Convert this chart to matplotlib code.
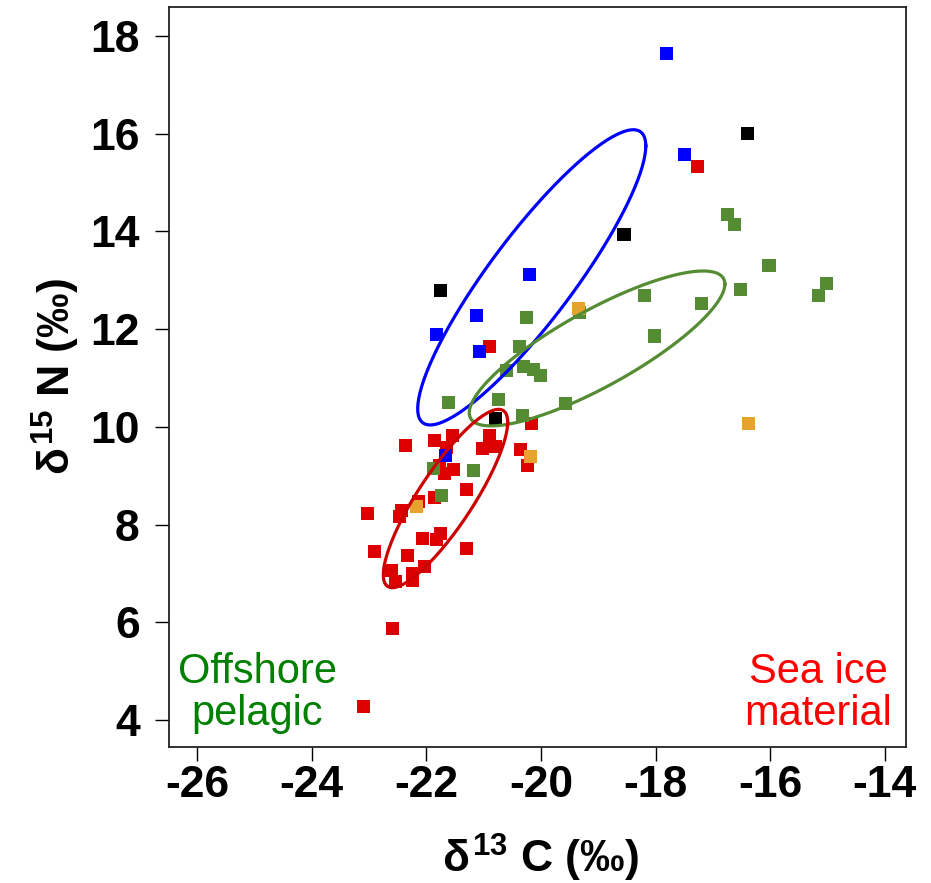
import numpy as np
import matplotlib
matplotlib.use("Agg")
import matplotlib.pyplot as plt

plt.rcParams['font.family'] = ['Liberation Sans', 'DejaVu Sans']
plt.rcParams['mathtext.fontset'] = 'custom'
plt.rcParams['mathtext.rm'] = 'Liberation Sans:bold'
plt.rcParams['mathtext.it'] = 'Liberation Sans:bold'
plt.rcParams['mathtext.bf'] = 'Liberation Sans:bold'

# isotope values (d13C, d15N) per group
red_x = [-17.26, -20.89, -22.36, -21.86, -21.54, -21.64, -20.90, -21.02, -20.80, -20.36,
         -20.16, -20.23, -21.77, -21.53, -21.69, -21.29, -21.86, -22.14, -23.02, -22.43,
         -22.47, -22.07, -21.76, -21.83, -21.29, -22.91, -22.32, -22.03, -22.60, -22.53,
         -22.24, -22.24, -22.59, -23.10]
red_y = [15.32, 11.65, 9.61, 9.72, 9.82, 9.57, 9.82, 9.56, 9.59, 9.54,
         10.06, 9.21, 9.20, 9.13, 9.05, 8.71, 8.56, 8.47, 8.23, 8.28,
         8.16, 7.72, 7.82, 7.70, 7.51, 7.46, 7.37, 7.14, 7.06, 6.83,
         7.01, 6.86, 5.88, 4.28]

green_x = [-16.75, -16.63, -16.02, -15.02, -15.15, -16.52, -18.19, -17.19, -18.01, -19.32,
           -20.25, -20.38, -20.31, -20.13, -20.01, -20.60, -21.61, -20.74, -19.57, -20.32,
           -21.17, -21.73, -21.88]
green_y = [14.34, 14.15, 13.31, 12.94, 12.68, 12.82, 12.68, 12.53, 11.86, 12.34,
           12.24, 11.65, 11.23, 11.18, 11.06, 11.15, 10.49, 10.56, 10.48, 10.24,
           9.10, 8.60, 9.15]

black_x = [-16.40, -18.55, -21.75, -20.80]
black_y = [16.00, 13.94, 12.80, 10.17]

orange_x = [-19.35, -16.37, -20.19, -22.17]
orange_y = [12.43, 10.07, 9.40, 8.38]

blue_x = [-17.81, -17.50, -20.20, -21.13, -21.83, -21.07, -21.67]
blue_y = [17.63, 15.57, 13.11, 12.27, 11.89, 11.55, 9.42]

# ellipses: centre x, centre y, sd x, sd y, correlation
ell_blue = [-20.16, 13.06, 1.99, 3.02, 0.89]
ell_green = [-19.02, 11.605, 2.23, 1.585, 0.83]
ell_red = [-21.665, 8.535, 1.085, 1.825, 0.855]

xticks = [-26, -24, -22, -20, -18, -16, -14]
yticks = [4, 6, 8, 10, 12, 14, 16, 18]


def ellipse_xy(p, n=200):
    cx, cy, sx, sy, r = p
    t = np.linspace(0, 2 * np.pi, n)
    ex = cx + sx * np.cos(t)
    ey = cy + sy * (r * np.cos(t) + np.sqrt(1 - r ** 2) * np.sin(t))
    return ex, ey


fig = plt.figure(figsize=(9.31, 8.83), dpi=100)
ax = fig.add_axes([0.1815, 0.154, 0.7916, 0.838])

ms = 88
ax.scatter(red_x, red_y, marker='s', s=ms, color='#DD0000', edgecolors='none', zorder=3)
ax.scatter(green_x, green_y, marker='s', s=ms, color='#548B33', edgecolors='none', zorder=3)
ax.scatter(black_x, black_y, marker='s', s=ms, color='black', edgecolors='none', zorder=3)
ax.scatter(orange_x, orange_y, marker='s', s=ms, color='#E8A32E', edgecolors='none', zorder=3)
ax.scatter(blue_x, blue_y, marker='s', s=ms, color='#0000FF', edgecolors='none', zorder=3)

for p, c in [(ell_blue, '#0000FF'), (ell_green, '#548B33'), (ell_red, '#CC0000')]:
    ex, ey = ellipse_xy(p)
    ax.plot(ex, ey, color=c, lw=2.3, zorder=4)

ax.set_xlim(-26.49, -13.63)
ax.set_ylim(3.45, 18.59)
ax.set_xticks(xticks)
ax.set_yticks(yticks)
ax.set_xticklabels([str(v) for v in xticks], fontsize=32, fontweight='bold')
ax.set_yticklabels([str(v) for v in yticks], fontsize=32, fontweight='bold')
ax.tick_params(axis='x', length=10, width=1, pad=3)
ax.tick_params(axis='y', length=10, width=1, pad=11)
for s in ax.spines.values():
    s.set_linewidth(1.3)
    s.set_color('#222222')

ax.text(0.120, 0.0297, 'Offshore\npelagic', transform=ax.transAxes, color='#008000',
        fontsize=30, ha='center', va='baseline', multialignment='center', linespacing=1.05)
ax.text(0.8806, 0.0297, 'Sea ice\nmaterial', transform=ax.transAxes, color='#FF0000',
        fontsize=30, ha='center', va='baseline', multialignment='center', linespacing=1.05)

fig.text(0.580, 0.028, r'$\delta^{13}$ C (‰)', fontsize=32, fontweight='bold',
         ha='center', va='center')
fig.text(0.0596, 0.573, r'$\delta^{15}$ N (‰)', fontsize=32, fontweight='bold',
         ha='center', va='center', rotation=90)

fig.savefig('out.png', dpi=100)
